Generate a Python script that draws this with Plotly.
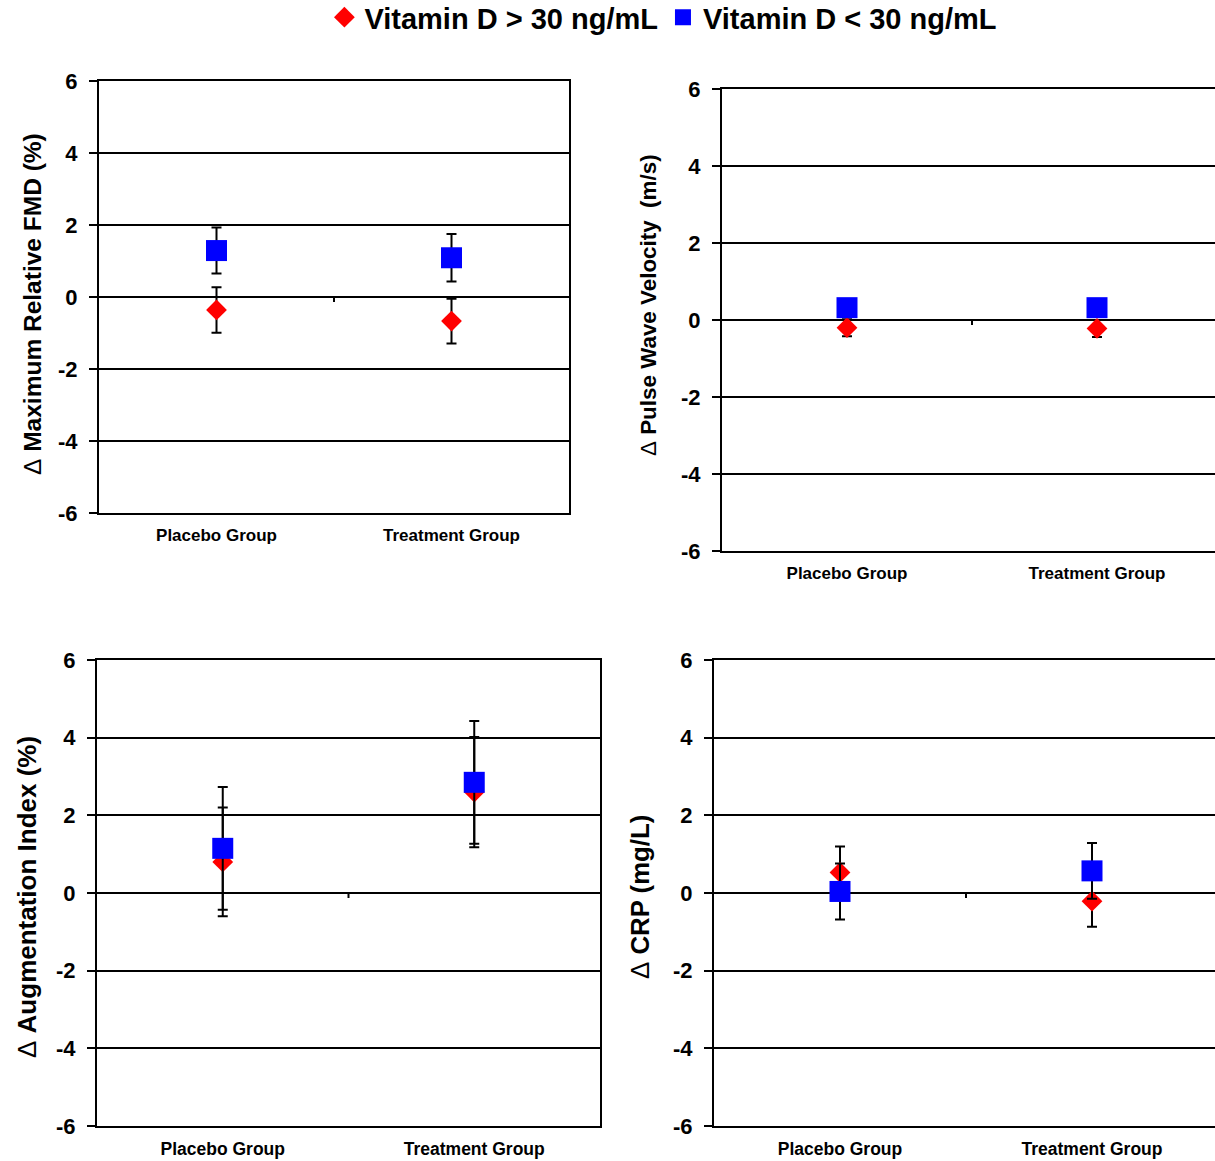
import plotly.graph_objects as go

W, H = 1215, 1161

groups = ["Placebo Group", "Treatment Group"]
xpos = [0, 1]
series_names = ["Vitamin D > 30 ng/mL", "Vitamin D < 30 ng/mL"]
yticks = [-6, -4, -2, 0, 2, 4, 6]
yticklabels = ["-6", "-4", "-2", "0", "2", "4", "6"]

# Panel values: (high vitamin D means, errors), (low vitamin D means, errors)
fmd_high = [-0.36, -0.67]
fmd_high_err = [0.63, 0.62]
fmd_low = [1.29, 1.09]
fmd_low_err = [0.64, 0.66]

pwv_high = [-0.2, -0.22]
pwv_high_err = [0.22, 0.22]
pwv_low = [0.32, 0.32]
pwv_low_err = [0.2, 0.2]

aix_high = [0.8, 2.6]
aix_high_err = [1.4, 1.42]
aix_low = [1.15, 2.85]
aix_low_err = [1.58, 1.58]

crp_high = [0.53, -0.21]
crp_high_err = [0.67, 0.66]
crp_low = [0.04, 0.57]
crp_low_err = [0.72, 0.72]

titles = ["Maximum Relative FMD (%)", "Pulse Wave Velocity  (m/s)",
          "Augmentation Index (%)", "CRP (mg/L)"]

panels = [
    (fmd_high, fmd_high_err, fmd_low, fmd_low_err),
    (pwv_high, pwv_high_err, pwv_low, pwv_low_err),
    (aix_high, aix_high_err, aix_low, aix_low_err),
    (crp_high, crp_high_err, crp_low, crp_low_err),
]

# pixel boxes: x0, x1, ytop, ybottom, category band width (px)
boxes = [(99, 569, 81, 513, 235), (722, 1215, 89, 551, 250),
         (97, 600, 660, 1126, 251.5), (714, 1215, 660, 1126, 252)]
title_pos = [(32, 304, 24.5), (648, 305, 22.4), (27, 897, 26), (640, 897, 25.8)]
mirror_y = [True, False, True, False]
cat_font = [17, 17, 17.5, 17.5]

FONT = "Liberation Sans, Arial, sans-serif"
RED = "#ff0000"
BLUE = "#0000ff"

fig = go.Figure()
layout = dict(width=W, height=H, margin=dict(l=0, r=0, t=0, b=0, autoexpand=False),
              autosize=False, paper_bgcolor="white", plot_bgcolor="white", showlegend=True)
annotations = []
shapes = []

for i, (hi, hie, lo, loe) in enumerate(panels):
    n = "" if i == 0 else str(i + 1)
    xa, ya = "x" + n, "y" + n
    fig.add_trace(go.Scatter(
        x=xpos, y=hi, mode="markers", name=series_names[0], legendgroup="hi",
        showlegend=(i == 0), xaxis=xa, yaxis=ya,
        marker=dict(symbol="diamond", size=16, color=RED, line=dict(width=0)),
        error_y=dict(type="data", array=hie, visible=True, color="black", thickness=2, width=5),
    ))
    fig.add_trace(go.Scatter(
        x=xpos, y=lo, mode="markers", name=series_names[1], legendgroup="lo",
        showlegend=(i == 0), xaxis=xa, yaxis=ya,
        marker=dict(symbol="square", size=21, color=BLUE, line=dict(width=0)),
        error_y=dict(type="data", array=loe, visible=True, color="black", thickness=2, width=5),
    ))
    x0, x1, yt, yb, band = boxes[i]
    span = (x1 - x0) / band
    layout["xaxis" + n] = dict(
        domain=[x0 / W, min(x1 / W, 1.0)], anchor=ya, range=[-0.5, -0.5 + span],
        tickvals=xpos, ticktext=groups, showgrid=False, zeroline=False,
        showline=True, linecolor="black", linewidth=2, mirror=True, ticks="",
        ticklabelstandoff=6,
        tickfont=dict(family=FONT, size=cat_font[i], color="black", weight="bold"),
    )
    layout["yaxis" + n] = dict(
        domain=[1 - yb / H, 1 - yt / H], anchor=xa, range=[-6, 6],
        tickvals=yticks, ticktext=yticklabels,
        showgrid=True, gridcolor="black", gridwidth=1.5,
        zeroline=True, zerolinecolor="black", zerolinewidth=2,
        showline=True, linecolor="black", linewidth=2, mirror=mirror_y[i],
        ticks="outside", ticklen=8, tickwidth=1.5, tickcolor="black",
        ticklabelstandoff=7,
        tickfont=dict(family=FONT, size=22, color="black", weight="bold"),
    )
    tx, ty, ts = title_pos[i]
    annotations.append(dict(
        text="<span style='font-weight:normal'>\u0394</span> " + titles[i],
        xref="paper", yref="paper", x=tx / W, y=1 - ty / H,
        xanchor="center", yanchor="middle", textangle=-90, showarrow=False,
        font=dict(family=FONT, size=ts, color="black", weight="bold"),
    ))
    shapes.append(dict(type="line", xref=xa, yref=ya, x0=0.5, x1=0.5,
                       ysizemode="pixel", yanchor=0, y0=0, y1=-5,
                       line=dict(color="black", width=2)))

layout["annotations"] = annotations
layout["shapes"] = shapes
layout["legend"] = dict(orientation="h", x=0.546, xanchor="center", y=1.007, yanchor="top",
                        font=dict(family=FONT, size=29, color="black", weight="bold"),
                        itemsizing="trace", bgcolor="rgba(0,0,0,0)", tracegroupgap=0)
fig.update_layout(**layout)
fig.write_html("out.html", config={"responsive": False, "displayModeBar": False},
               post_script="document.body.style.margin='0px';")
